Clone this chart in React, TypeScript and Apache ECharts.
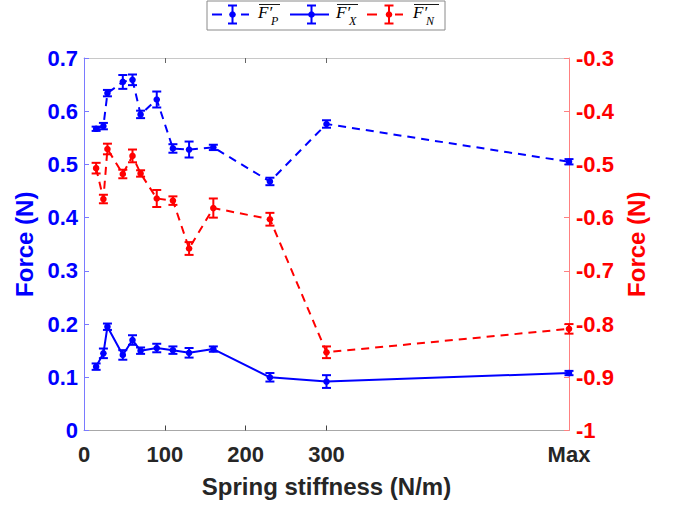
import React, { useEffect, useRef } from 'react';
import * as echarts from 'echarts';

// ---- data ----
const stiffness = [15, 24, 29, 48, 60, 70, 90, 110, 130, 160, 230, 300, 600];
const xTickValues = [0, 100, 200, 300, 600];
const xTickLabels = ['0', '100', '200', '300', 'Max'];
const xMinorTicks = [100, 200, 300];

const fpMean = [0.567, 0.572, 0.634, 0.655, 0.659, 0.594, 0.622, 0.530, 0.528, 0.532, 0.468, 0.576, 0.505];
const fpErr = [0.004, 0.006, 0.006, 0.013, 0.010, 0.007, 0.015, 0.008, 0.015, 0.005, 0.007, 0.007, 0.005];

const fxMean = [0.120, 0.145, 0.195, 0.142, 0.170, 0.150, 0.155, 0.151, 0.146, 0.153, 0.100, 0.092, 0.108];
const fxErr = [0.006, 0.009, 0.006, 0.009, 0.009, 0.006, 0.008, 0.007, 0.009, 0.005, 0.008, 0.012, 0.004];

const fnMean = [-0.507, -0.565, -0.471, -0.518, -0.484, -0.517, -0.564, -0.568, -0.658, -0.582, -0.603, -0.853, -0.809];
const fnErr = [0.010, 0.008, 0.010, 0.008, 0.012, 0.006, 0.016, 0.008, 0.012, 0.018, 0.012, 0.011, 0.009];

const leftRange = [0, 0.7];
const rightRange = [-1, -0.3];

const BLUE = '#0000ff';
const RED = '#ff0000';
const DARK = '#262626';
const SANS = "'Liberation Sans', Arial, Helvetica, sans-serif";
const SERIF = "'Liberation Serif', 'DejaVu Serif', serif";

function fmt(v: number) {
  return String(Math.round(v * 10) / 10);
}

function lineSeries(means: number[], color: string, yAxisIndex: number, dashed: boolean) {
  return {
    type: 'line',
    yAxisIndex,
    data: stiffness.map((x, i) => [x, means[i]]),
    showSymbol: false,
    symbol: 'none',
    lineStyle: { color, width: 2, type: dashed ? [8, 6] : 'solid' },
    z: 3,
    silent: true,
  };
}

function errorSeries(means: number[], errs: number[], color: string, yAxisIndex: number) {
  return {
    type: 'custom',
    yAxisIndex,
    z: 5,
    silent: true,
    data: stiffness.map((x, i) => [x, means[i], errs[i]]),
    encode: { x: 0, y: 1 },
    renderItem: (_params: any, api: any) => {
      const x = api.value(0);
      const y = api.value(1);
      const e = api.value(2);
      const top = api.coord([x, y + e]);
      const bot = api.coord([x, y - e]);
      const mid = api.coord([x, y]);
      const hw = 4.5;
      const ls = { stroke: color, lineWidth: 2 };
      return {
        type: 'group',
        children: [
          { type: 'line', shape: { x1: top[0], y1: top[1], x2: bot[0], y2: bot[1] }, style: ls },
          { type: 'line', shape: { x1: top[0] - hw, y1: top[1], x2: top[0] + hw, y2: top[1] }, style: ls },
          { type: 'line', shape: { x1: bot[0] - hw, y1: bot[1], x2: bot[0] + hw, y2: bot[1] }, style: ls },
          { type: 'circle', shape: { cx: mid[0], cy: mid[1], r: 3.3 }, style: { fill: color } },
        ],
      };
    },
  };
}

function legendGlyph(cx: number, cy: number, color: string, x0: number, x1: number, dashed: boolean) {
  const ls = { stroke: color, lineWidth: 2 };
  const items: any[] = [];
  if (dashed) {
    items.push({ type: 'line', shape: { x1: x0, y1: cy, x2: x0 + 10, y2: cy }, style: ls });
    items.push({ type: 'line', shape: { x1: x1 - 8, y1: cy, x2: x1, y2: cy }, style: ls });
  } else {
    items.push({ type: 'line', shape: { x1: x0, y1: cy, x2: x1, y2: cy }, style: ls });
  }
  items.push({ type: 'line', shape: { x1: cx, y1: cy - 9, x2: cx, y2: cy + 9 }, style: ls });
  items.push({ type: 'line', shape: { x1: cx - 4.5, y1: cy - 9, x2: cx + 4.5, y2: cy - 9 }, style: ls });
  items.push({ type: 'line', shape: { x1: cx - 4.5, y1: cy + 9, x2: cx + 4.5, y2: cy + 9 }, style: ls });
  items.push({ type: 'circle', shape: { cx, cy, r: 3.3 }, style: { fill: color } });
  return items;
}

function legendLabel(x: number, sub: string, barW: number) {
  return [
    { type: 'line', shape: { x1: x + 1, y1: 4.5, x2: x + 1 + barW, y2: 4.5 }, style: { stroke: '#000', lineWidth: 0.9 } },
    {
      type: 'text', x, y: 12.6,
      style: { text: 'F′', font: `italic 17px ${SERIF}`, fill: '#000', verticalAlign: 'middle', align: 'left' },
    },
    {
      type: 'text', x: x + 13, y: 20.5,
      style: { text: sub, font: `italic 12px ${SERIF}`, fill: '#000', verticalAlign: 'middle', align: 'left' },
    },
  ];
}

export default function App() {
  const ref = useRef<HTMLDivElement>(null);
  useEffect(() => {
    if (!ref.current) return;
    const chart = echarts.init(ref.current, undefined, { renderer: 'svg' });
    const tickLabelStyle = { fontSize: 22, fontWeight: 'bold' as const, fontFamily: SANS };
    const nameStyle = { fontSize: 24, fontWeight: 'bold' as const, fontFamily: SANS };
    const option: any = {
      animation: false,
      backgroundColor: '#ffffff',
      grid: { left: 84, right: 106, top: 58, bottom: 74.5, containLabel: false, outerBoundsMode: 'none' },
      xAxis: [
        {
          type: 'value', position: 'bottom', min: 0, max: 600,
          axisLine: { show: true, onZero: false, lineStyle: { color: '#a8a8a8', width: 1 } },
          axisTick: { show: true, inside: true, length: 5, customValues: xMinorTicks, lineStyle: { color: '#444', width: 1 } },
          axisLabel: {
            show: true, customValues: xTickValues, margin: 13, color: DARK, ...tickLabelStyle,
            formatter: (v: number) => xTickLabels[xTickValues.indexOf(v)] ?? String(v),
          },
          splitLine: { show: false },
          name: 'Spring stiffness (N/m)', nameLocation: 'middle', nameGap: 44,
          nameTextStyle: { color: DARK, ...nameStyle },
        },
        {
          type: 'value', position: 'top', min: 0, max: 600,
          axisLine: { show: true, onZero: false, lineStyle: { color: '#c8c8c8', width: 1 } },
          axisTick: { show: true, inside: true, length: 5, customValues: xMinorTicks, lineStyle: { color: '#666', width: 1 } },
          axisLabel: { show: false },
          splitLine: { show: false },
        },
      ],
      yAxis: [
        {
          type: 'value', position: 'left', min: leftRange[0], max: leftRange[1], interval: 0.1,
          axisLine: { show: true, onZero: false, lineStyle: { color: '#7a7aff', width: 1 } },
          axisTick: { show: true, inside: true, length: 5, lineStyle: { color: '#7a7aff', width: 1 } },
          axisLabel: { margin: 6, color: BLUE, ...tickLabelStyle, formatter: fmt },
          splitLine: { show: false },
          name: 'Force (N)', nameLocation: 'middle', nameGap: 47,
          nameTextStyle: { color: BLUE, ...nameStyle },
        },
        {
          type: 'value', position: 'right', min: rightRange[0], max: rightRange[1], interval: 0.1,
          axisLine: { show: true, onZero: false, lineStyle: { color: '#ff8080', width: 1 } },
          axisTick: { show: true, inside: true, length: 5, lineStyle: { color: '#ff8080', width: 1 } },
          axisLabel: { margin: 7, color: RED, ...tickLabelStyle, formatter: fmt },
          splitLine: { show: false },
          name: 'Force (N)', nameLocation: 'middle', nameGap: 52,
          nameTextStyle: { color: RED, ...nameStyle },
        },
      ],
      series: [
        lineSeries(fpMean, BLUE, 0, true),
        lineSeries(fxMean, BLUE, 0, false),
        lineSeries(fnMean, RED, 1, true),
        errorSeries(fpMean, fpErr, BLUE, 0),
        errorSeries(fxMean, fxErr, BLUE, 0),
        errorSeries(fnMean, fnErr, RED, 1),
      ],
      graphic: [
        {
          type: 'group',
          children: [
            { type: 'rect', shape: { x: 207, y: 1, width: 238, height: 29 }, style: { fill: '#fff', stroke: '#8a8a8a', lineWidth: 1 } },
            ...legendGlyph(232.5, 14.5, BLUE, 212, 249, true),
            ...legendLabel(258, 'P', 21),
            ...legendGlyph(311.5, 14.5, BLUE, 290, 329, false),
            ...legendLabel(336, 'X', 21),
            ...legendGlyph(389, 14.5, RED, 367, 403, true),
            ...legendLabel(413, 'N', 25),
          ],
        },
      ],
    };
    chart.setOption(option);
    return () => chart.dispose();
  }, []);
  return (
    <div
      ref={ref}
      style={{ position: 'absolute', left: 0, top: 0, width: 675, height: 505 }}
    />
  );
}
